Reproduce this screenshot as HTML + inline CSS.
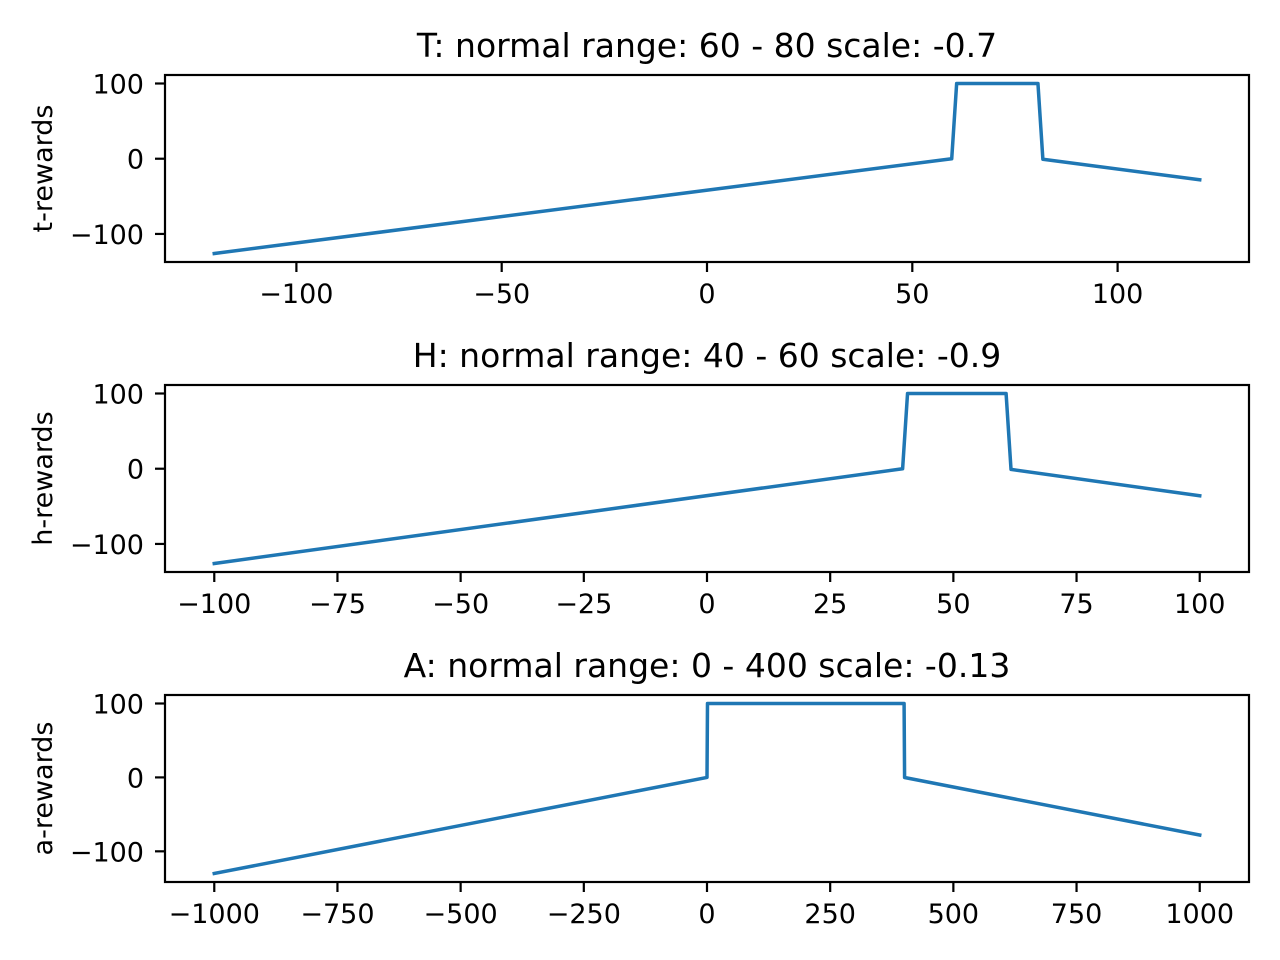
<!DOCTYPE html>
<html><head><meta charset="utf-8"><style>
html,body{margin:0;padding:0;background:#fff;}
svg{display:block;font-family:"DejaVu Sans","Liberation Sans",sans-serif;}
</style></head><body>
<svg id="chart" width="1280" height="960" viewBox="0 0 1280 960"></svg>
<script>
// Panel T data
const tX = [-120, 59.6, 60.8, 80.6, 81.8, 120];
const tY = [-126, 0, 100, 100, -0.7, -28];
const tXTicks = [-100, -50, 0, 50, 100];
// Panel H data
const hX = [-100, 39.7, 40.7, 60.7, 61.7, 100];
const hY = [-126, 0, 100, 100, -0.9, -36];
const hXTicks = [-100, -75, -50, -25, 0, 25, 50, 75, 100];
// Panel A data
const aX = [-1000, 0, 1, 400, 401, 1000];
const aY = [-130, 0, 100, 100, -0.13, -78];
const aXTicks = [-1000, -750, -500, -250, 0, 250, 500, 750, 1000];
const yTicks = [-100, 0, 100];
const titles = ["T: normal range: 60 - 80 scale: -0.7", "H: normal range: 40 - 60 scale: -0.9", "A: normal range: 0 - 400 scale: -0.13"];
const yLabels = ["t-rewards", "h-rewards", "a-rewards"];

const NS = "http://www.w3.org/2000/svg";
const svg = document.getElementById('chart');
function mk(tag, attrs, parent) {
  const e = document.createElementNS(NS, tag);
  for (const k in attrs) e.setAttribute(k, attrs[k]);
  (parent || svg).appendChild(e);
  return e;
}
function fmt(v) { return v < 0 ? "\u2212" + Math.abs(v) : String(v); }

const panels = [
  {xs: tX, ys: tY, ticks: tXTicks, top: 75, name: "t"},
  {xs: hX, ys: hY, ticks: hXTicks, top: 385, name: "h"},
  {xs: aX, ys: aY, ticks: aXTicks, top: 695, name: "a"}
];
const L = 165, R = 1249, H = 187;
const FS = 27;

panels.forEach((p, i) => {
  const g = mk('g', {});
  
  
  const xmin = Math.min(...p.xs), xmax = Math.max(...p.xs);
  const xm = (xmax - xmin) * 0.05;
  const ymin = Math.min(...p.ys), ymax = Math.max(...p.ys);
  const ym = (ymax - ymin) * 0.05;
  const x0 = xmin - xm, x1 = xmax + xm, y0 = ymin - ym, y1 = ymax + ym;
  const sx = v => L + (v - x0) / (x1 - x0) * (R - L);
  const sy = v => p.top + H - (v - y0) / (y1 - y0) * H;
  const bottom = p.top + H;

  const pts = p.xs.map((x, k) => sx(x).toFixed(2) + ',' + sy(p.ys[k]).toFixed(2)).join(' ');
  const line = mk('polyline', {points: pts, fill: 'none', stroke: '#1f77b4', 'stroke-width': 3.5, 'stroke-linejoin': 'round', 'stroke-linecap': 'square'}, g);
  
  

  const fr = mk('rect', {x: L, y: p.top, width: R - L, height: H, fill: 'none', stroke: '#000', 'stroke-width': 2.2}, g);
  
  

  p.ticks.forEach(t => {
    const x = sx(t);
    mk('line', {x1: x, x2: x, y1: bottom, y2: bottom + 10, stroke: '#000', 'stroke-width': 2.2}, g);
    const tx = mk('text', {x: x, y: bottom + 41, 'font-size': FS, 'text-anchor': 'middle', fill: '#000'}, g);
    tx.textContent = fmt(t);
    
    
  });
  yTicks.forEach(t => {
    const y = sy(t);
    mk('line', {x1: L - 10, x2: L, y1: y, y2: y, stroke: '#000', 'stroke-width': 2.2}, g);
    const ty = mk('text', {x: L - 21, y: y + 10, 'font-size': FS, 'text-anchor': 'end', fill: '#000'}, g);
    ty.textContent = fmt(t);
    
    
  });
  const ti = mk('text', {x: (L + R) / 2, y: p.top - 18, 'font-size': 33, 'text-anchor': 'middle', fill: '#000'}, g);
  ti.textContent = titles[i];
  
  
  const cy = p.top + H / 2;
  const yl = mk('text', {x: 52, y: cy, 'font-size': FS, 'text-anchor': 'middle', fill: '#000', transform: 'rotate(-90 52 ' + cy + ')'}, g);
  yl.textContent = yLabels[i];
  
  
});
</script>
</body></html>
